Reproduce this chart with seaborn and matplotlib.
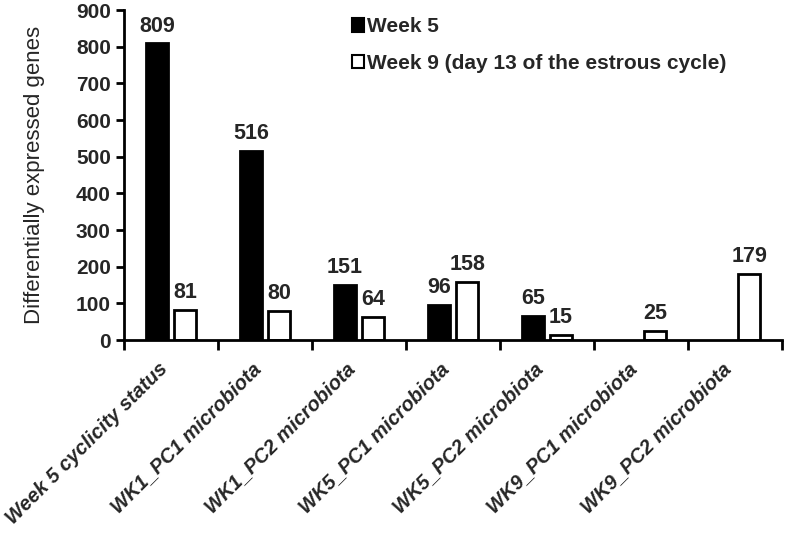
import numpy as np
import pandas as pd
import matplotlib
matplotlib.use('Agg')
import matplotlib.pyplot as plt
import seaborn as sns
from matplotlib.patches import Patch

# ── DATA ─────────────────────────────────────────────────────
categories = ['Week 5 cyclicity status', 'WK1_PC1 microbiota', 'WK1_PC2 microbiota',
              'WK5_PC1 microbiota', 'WK5_PC2 microbiota', 'WK9_PC1 microbiota',
              'WK9_PC2 microbiota']
week5 = [809, 516, 151, 96, 65, np.nan, np.nan]
week9 = [81, 80, 64, 158, 15, 25, 179]
series_names = ['Week 5', 'Week 9 (day 13 of the estrous cycle)']

df = pd.DataFrame({
    'category': categories * 2,
    'genes': week5 + week9,
    'series': [series_names[0]] * len(categories) + [series_names[1]] * len(categories),
})

sns.set_style('ticks')
plt.rcParams['font.family'] = ['Liberation Sans', 'DejaVu Sans']

fig = plt.figure(figsize=(7.87, 5.33), dpi=100)
ax = fig.add_axes([0.1576, 0.362, 0.836, 0.619])

sns.barplot(data=df, x='category', y='genes', hue='series', order=categories,
            hue_order=series_names, palette={series_names[0]: 'black', series_names[1]: 'white'},
            edgecolor='black', linewidth=2, width=0.6, gap=0.2, legend=False, ax=ax)

for c in ax.containers:
    labels = ['' if (np.isnan(v) or v <= 0) else f'{v:.0f}' for v in c.datavalues]
    ax.bar_label(c, labels=labels, padding=5, fontsize=15.5, fontweight='bold')

# axes styling
ax.set_ylim(0, 900)
ax.set_xlim(-0.5, len(categories) - 0.5)
ax.set_yticks(np.arange(0, 901, 100))
ax.set_ylabel('Differentially expressed genes', fontsize=16, labelpad=22)
ax.set_xlabel('')
for s in ['top', 'right']:
    ax.spines[s].set_visible(False)
for s in ['left', 'bottom']:
    ax.spines[s].set_linewidth(2)
    ax.spines[s].set_color('black')

ax.tick_params(axis='y', labelsize=15, width=2, length=6, color='black')
for t in ax.get_yticklabels():
    t.set_fontweight('bold')

# x: labels at centers, tick marks at boundaries
ax.set_xticks(np.arange(len(categories)))
ax.set_xticklabels(categories, rotation=45, ha='right', rotation_mode='default',
                   fontsize=14.5, fontweight='bold', fontstyle='italic')
ax.tick_params(axis='x', which='major', length=0, pad=14)
ax.set_xticks(np.arange(len(categories) + 1) - 0.5, minor=True)
ax.tick_params(axis='x', which='minor', length=7, width=2, color='black', direction='out')

handles = [Patch(facecolor='black', edgecolor='black', linewidth=1.5),
           Patch(facecolor='white', edgecolor='black', linewidth=1.5)]
leg = ax.legend(handles, series_names, loc='upper left', bbox_to_anchor=(0.33, 1.01),
                frameon=False, handlelength=0.6, handleheight=0.6, handletextpad=0.15,
                labelspacing=0.85, borderpad=0, prop={'size': 15, 'weight': 'bold'})

fig.savefig('out.png', dpi=100)
